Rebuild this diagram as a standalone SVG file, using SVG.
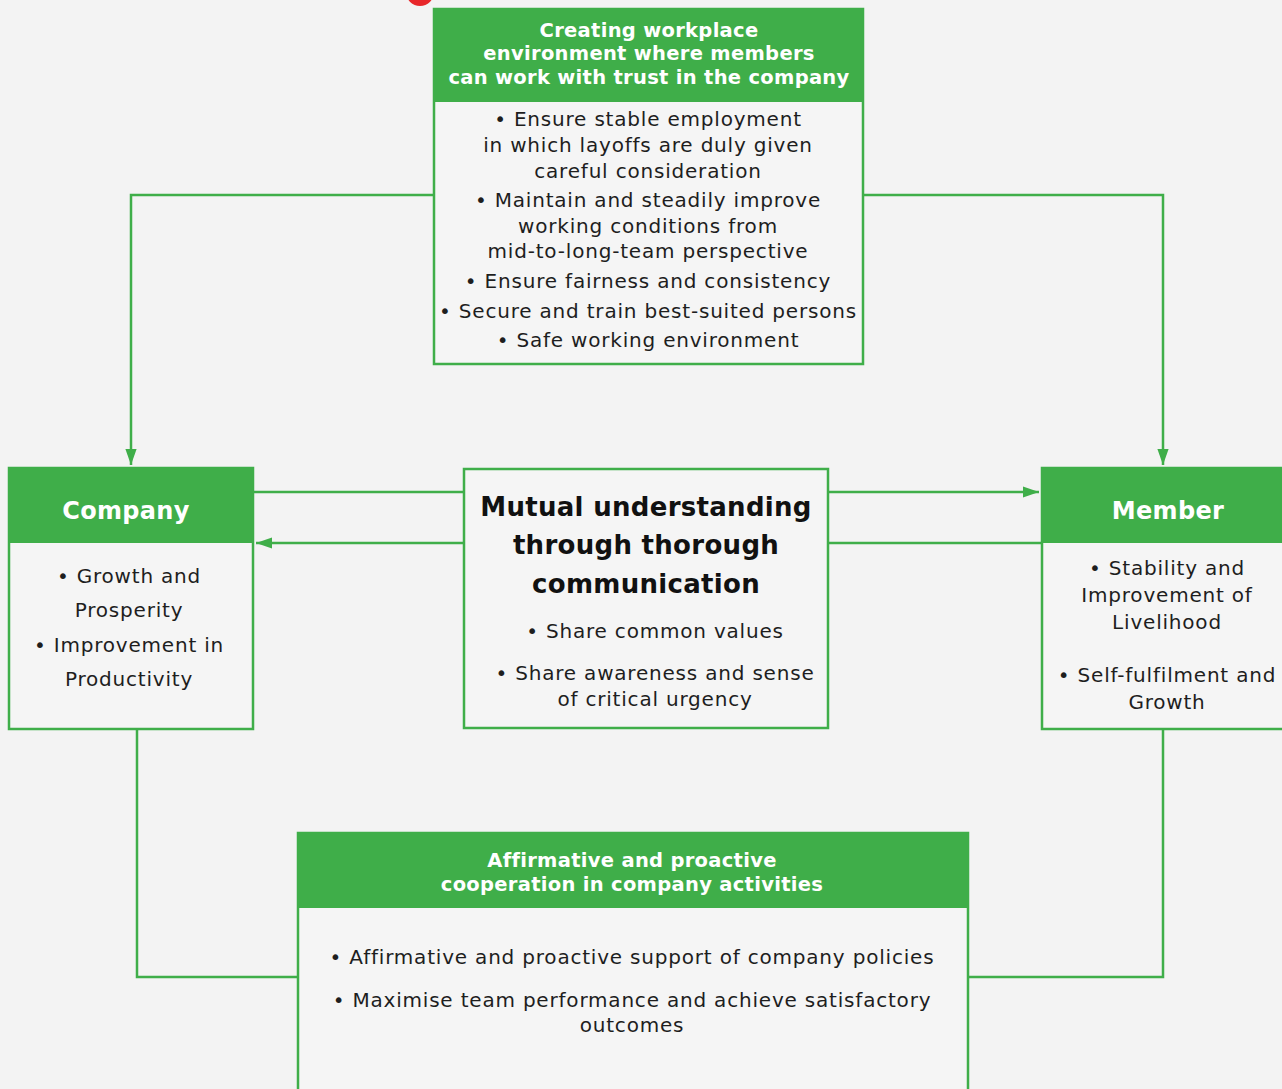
<svg xmlns="http://www.w3.org/2000/svg" width="1282" height="1089" viewBox="0 0 1282 1089">
<style>
.box{fill:#f5f5f5;stroke:#3fae49;stroke-width:2.5}
.hdr{fill:#3fae49}
.ht{font-family:"DejaVu Sans",Verdana,sans-serif;font-weight:bold;fill:#ffffff;text-anchor:middle;letter-spacing:0.3px}
.bt{font-family:"DejaVu Sans",Verdana,sans-serif;fill:#1e1e1e;text-anchor:middle;font-size:20px;letter-spacing:0.8px}
.ct{font-family:"DejaVu Sans",Verdana,sans-serif;font-weight:bold;fill:#111;text-anchor:middle;font-size:26px;letter-spacing:0.3px}
.ln{fill:none;stroke:#3fae49;stroke-width:2.5}
</style>
<defs>
<marker id="ah2" viewBox="0 0 10 10" refX="10" refY="5" markerWidth="16" markerHeight="16" markerUnits="userSpaceOnUse" orient="auto">
<path d="M0,1.5 L10,5 L0,8.5 z" fill="#3fae49"/>
</marker>
</defs>
<rect width="1282" height="1089" fill="#f3f3f3"/>
<circle cx="420" cy="-8" r="14" fill="#e8262a"/>

<g id="connectors">
<path class="ln" d="M433,195 H131 V465" marker-end="url(#ah2)"/>
<path class="ln" d="M864,195 H1163 V465" marker-end="url(#ah2)"/>
<path class="ln" d="M254,492 H463"/>
<path class="ln" d="M829,492 H1039" marker-end="url(#ah2)"/>
<path class="ln" d="M463,543 H256" marker-end="url(#ah2)"/>
<path class="ln" d="M829,543 H1041"/>
<path class="ln" d="M137,730 V977 H297"/>
<path class="ln" d="M1163,730 V977 H969"/>
</g>

<g id="top">
<rect class="box" x="434" y="9" width="429" height="355"/>
<rect class="hdr" x="433" y="8" width="431" height="94"/>
<text class="ht" font-size="19.5" x="649" y="37">Creating workplace</text>
<text class="ht" font-size="19.5" x="649" y="60">environment where members</text>
<text class="ht" font-size="19.5" x="649" y="84">can work with trust in the company</text>
<text class="bt" x="648" y="126">• Ensure stable employment</text>
<text class="bt" x="648" y="152">in which layoffs are duly given</text>
<text class="bt" x="648" y="178">careful consideration</text>
<text class="bt" x="648" y="207">• Maintain and steadily improve</text>
<text class="bt" x="648" y="233">working conditions from</text>
<text class="bt" x="648" y="258">mid-to-long-team perspective</text>
<text class="bt" x="648" y="288">• Ensure fairness and consistency</text>
<text class="bt" x="648" y="318">• Secure and train best-suited persons</text>
<text class="bt" x="648" y="347">• Safe working environment</text>
</g>

<g id="company">
<rect class="box" x="9" y="468" width="244" height="261"/>
<rect class="hdr" x="8" y="467" width="246" height="76"/>
<text class="ht" font-size="24" x="126" y="519">Company</text>
<text class="bt" x="129" y="583">• Growth and</text>
<text class="bt" x="129" y="617">Prosperity</text>
<text class="bt" x="129" y="652">• Improvement in</text>
<text class="bt" x="129" y="686">Productivity</text>
</g>

<g id="center">
<rect class="box" x="464" y="469" width="364" height="259"/>
<text class="ct" x="646" y="516">Mutual understanding</text>
<text class="ct" x="646" y="554">through thorough</text>
<text class="ct" x="646" y="593">communication</text>
<text class="bt" x="655" y="638">• Share common values</text>
<text class="bt" x="655" y="680">• Share awareness and sense</text>
<text class="bt" x="655" y="706">of critical urgency</text>
</g>

<g id="member">
<rect class="box" x="1042" y="468" width="250" height="261"/>
<rect class="hdr" x="1041" y="467" width="245" height="76"/>
<text class="ht" font-size="24" x="1168" y="519">Member</text>
<text class="bt" x="1167" y="575">• Stability and</text>
<text class="bt" x="1167" y="602">Improvement of</text>
<text class="bt" x="1167" y="629">Livelihood</text>
<text class="bt" x="1167" y="682">• Self-fulfilment and</text>
<text class="bt" x="1167" y="709">Growth</text>
</g>

<g id="bottom">
<rect class="box" x="298" y="833" width="670" height="270"/>
<rect class="hdr" x="297" y="832" width="672" height="76"/>
<text class="ht" font-size="19.5" x="632" y="867">Affirmative and proactive</text>
<text class="ht" font-size="19.5" x="632" y="891">cooperation in company activities</text>
<text class="bt" x="632" y="964">• Affirmative and proactive support of company policies</text>
<text class="bt" x="632" y="1007">• Maximise team performance and achieve satisfactory</text>
<text class="bt" x="632" y="1032">outcomes</text>
</g>
</svg>
